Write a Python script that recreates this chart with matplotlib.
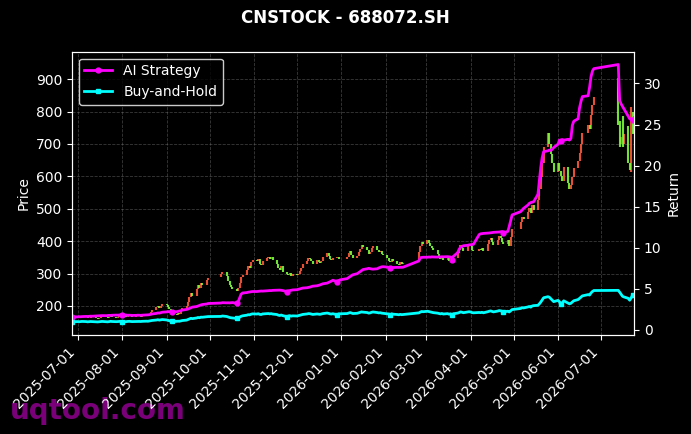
import numpy as np
import pandas as pd
import matplotlib
matplotlib.use("Agg")
import matplotlib.pyplot as plt
import matplotlib.dates as mdates

title = "CNSTOCK - 688072.SH"

# trading calendar: business days minus exchange holidays and a data gap
closed_days = (["2025-10-01", "2025-10-02", "2025-10-03", "2025-10-06", "2025-10-07", "2025-10-08",
                "2026-01-01", "2026-01-02",
                "2026-02-16", "2026-02-17", "2026-02-18", "2026-02-19", "2026-02-20", "2026-02-23",
                "2026-04-06", "2026-05-01", "2026-05-04", "2026-05-05", "2026-06-19"]
               + [d.strftime("%Y-%m-%d") for d in pd.bdate_range("2026-06-29", "2026-07-10")])
dates = pd.bdate_range("2025-06-27", "2026-07-24")
dates = dates[~dates.isin(pd.to_datetime(closed_days))]

opens = [
    160, 162,
    164, 166, 163, 166, 168, 165, 162, 164, 167, 166, 163, 161, 164, 166, 168, 165, 163, 166, 169, 167, 164, 166, 168,
    170, 168, 166, 169, 171, 168, 166, 170, 172, 169, 167, 171, 174, 172, 176, 181, 188, 196, 201, 194, 199,
    205, 203, 198, 190, 182, 176, 173, 178, 175, 183, 192, 201, 212, 226, 240, 232, 251, 263, 256, 270, 266, 279,
    288, 298, 306, 292, 278, 266, 258, 252, 247, 256, 270, 288, 296, 310, 322, 318, 335,
    342, 338, 346, 330, 325, 340, 348, 352, 344, 350, 341, 330, 318, 310, 322, 305, 300, 296, 303, 292,
    298, 294, 300, 309, 318, 328, 340, 348, 345, 338, 330, 342, 336, 333, 340, 350, 362, 355, 345, 341, 348, 352, 344,
    346, 350, 362, 370, 358, 348, 355, 366, 376, 388, 382, 372, 360, 366, 378, 385, 372, 365, 370, 360,
    358, 348, 340, 335, 344, 338, 330, 326, 335, 328, 340, 365, 384, 398,
    392, 405, 395, 386, 378, 372, 360, 352, 346, 355, 342, 350, 338, 345, 352, 348, 362, 372, 388, 380, 370, 385,
    392, 386, 374, 368, 376, 372, 380, 368, 392, 402, 410, 398, 388, 405, 416, 410, 398, 390, 402, 385, 412,
    438, 458, 476, 468, 489, 502, 486, 510, 496, 528, 560, 598, 642, 690, 735, 700, 668, 640,
    612, 640, 615, 600, 585, 630, 580, 560, 572, 598, 625, 648, 672, 700, 735, 760, 745, 790, 820,
    905, 770, 700, 785, 700, 754, 640, 612, 800, 735,
]
closes = [
    162, 164,
    165, 163, 166, 168, 165, 162, 164, 167, 166, 163, 161, 164, 166, 168, 165, 163, 166, 169, 167, 164, 166, 168, 170,
    168, 166, 169, 171, 168, 166, 170, 172, 169, 167, 171, 174, 172, 176, 181, 188, 196, 201, 194, 199, 205,
    203, 198, 190, 182, 176, 173, 178, 175, 183, 192, 201, 212, 226, 240, 232, 251, 263, 256, 270, 266, 279, 285,
    298, 306, 292, 278, 266, 258, 252, 247, 256, 270, 288, 296, 310, 322, 318, 335, 342,
    338, 346, 330, 325, 340, 348, 352, 344, 350, 341, 330, 318, 310, 322, 305, 300, 296, 303, 292, 298,
    294, 300, 309, 318, 328, 340, 348, 345, 338, 330, 342, 336, 333, 340, 350, 362, 355, 345, 341, 348, 352, 344, 346,
    350, 362, 370, 358, 348, 355, 366, 376, 388, 382, 372, 360, 366, 378, 385, 372, 365, 370, 360, 358,
    348, 340, 335, 344, 338, 330, 326, 335, 328, 332, 365, 384, 398, 392,
    405, 395, 386, 378, 372, 360, 352, 346, 355, 342, 350, 338, 345, 352, 348, 362, 372, 388, 380, 370, 385, 392,
    386, 374, 368, 376, 372, 380, 368, 392, 402, 410, 398, 388, 405, 416, 410, 398, 390, 402, 385, 412, 438,
    458, 476, 468, 489, 502, 486, 510, 496, 528, 560, 598, 642, 690, 735, 700, 668, 640, 612,
    640, 615, 600, 585, 630, 580, 560, 572, 598, 625, 648, 672, 700, 735, 760, 745, 790, 820, 845,
    760, 690, 720, 690, 730, 640, 620, 815, 730, 760,
]
ai_ret = [
    1.55, 1.58,
    1.60, 1.62, 1.61, 1.63, 1.65, 1.64, 1.66, 1.68, 1.67, 1.70, 1.72, 1.71, 1.73, 1.75, 1.74, 1.76, 1.78, 1.77, 1.79, 1.81, 1.80, 1.82, 1.84,
    1.80, 1.81, 1.79, 1.80, 1.78, 1.77, 1.78, 1.80, 1.79, 1.78, 1.80, 1.82, 1.84, 1.86, 1.90, 1.95, 2.02, 2.08, 2.05, 2.10, 2.16,
    2.20, 2.24, 2.22, 2.25, 2.18, 2.22, 2.26, 2.30, 2.35, 2.42, 2.50, 2.55, 2.62, 2.70, 2.78, 2.85, 2.92, 2.98, 3.05, 3.10, 3.16, 3.22,
    3.28, 3.32, 3.30, 3.31, 3.29, 3.32, 3.33, 3.25, 3.45, 3.90, 4.35, 4.50, 4.55, 4.60, 4.62, 4.66, 4.68,
    4.68, 4.70, 4.72, 4.74, 4.73, 4.76, 4.78, 4.80, 4.79, 4.82, 4.84, 4.86, 4.85, 4.83, 4.80, 4.67, 4.74, 4.80, 4.84, 4.87,
    4.90, 4.95, 5.00, 5.05, 5.10, 5.14, 5.18, 5.22, 5.28, 5.33, 5.38, 5.43, 5.48, 5.55, 5.62, 5.70, 5.78, 5.86, 5.95, 6.05, 5.88, 6.00, 6.10,
    6.25, 6.38, 6.50, 6.62, 6.72, 6.85, 6.98, 7.10, 7.22, 7.35, 7.45, 7.50, 7.46, 7.42, 7.40, 7.45, 7.55, 7.62, 7.68, 7.70,
    7.65, 7.60, 7.50, 7.58, 7.60, 7.62, 7.61, 7.63, 7.62, 7.64, 8.40, 8.80, 8.82, 8.85,
    8.85, 8.88, 8.86, 8.90, 8.88, 8.87, 8.90, 8.89, 8.91, 8.90, 8.92, 8.90, 8.88, 8.55, 8.95, 9.40, 9.80, 10.05, 10.15, 10.25, 10.30, 10.35,
    10.38, 10.40, 10.42, 11.60, 11.70, 11.72, 11.75, 11.78, 11.80, 11.82, 11.85, 11.88, 11.90, 11.92, 11.95, 11.98, 11.80, 12.00, 12.60, 13.30, 14.00,
    14.40, 14.60, 14.80, 15.20, 15.40, 15.50, 15.55, 15.60, 16.50, 18.10, 19.80, 21.00, 21.70, 21.80, 21.90, 21.85, 22.00, 22.20,
    22.60, 23.10, 23.00, 23.15, 23.10, 23.20, 23.10, 23.30, 24.90, 25.40, 25.70, 27.00, 27.80, 28.40, 28.50, 29.50, 30.80, 31.50, 31.80,
    32.30, 27.90, 27.50, 27.20, 26.90, 26.00, 25.70, 25.60, 25.60, 25.80,
]
bh_ret = [
    1.00, 1.01,
    1.02, 1.00, 1.02, 1.04, 1.02, 0.99, 1.01, 1.03, 1.02, 1.00, 0.98, 1.00, 1.02, 1.04, 1.01, 0.99, 1.02, 1.05, 1.03, 1.01, 1.02, 1.04, 1.05,
    0.95, 1.02, 1.04, 1.05, 1.03, 1.02, 1.04, 1.06, 1.04, 1.03, 1.05, 1.07, 1.06, 1.09, 1.12, 1.16, 1.21, 1.25, 1.20, 1.23, 1.27,
    1.22, 1.18, 1.12, 1.08, 1.04, 1.05, 1.07, 1.06, 1.10, 1.15, 1.20, 1.27, 1.35, 1.42, 1.38, 1.46, 1.52, 1.49, 1.56, 1.55, 1.60, 1.63,
    1.65, 1.70, 1.64, 1.58, 1.52, 1.48, 1.46, 1.40, 1.48, 1.56, 1.66, 1.72, 1.80, 1.86, 1.84, 1.92, 1.96,
    1.94, 1.98, 1.90, 1.88, 1.95, 1.98, 2.00, 1.96, 1.99, 1.94, 1.88, 1.80, 1.76, 1.82, 1.75, 1.62, 1.70, 1.74, 1.68, 1.72,
    1.70, 1.74, 1.79, 1.84, 1.89, 1.95, 1.99, 1.98, 1.93, 1.89, 1.95, 1.92, 1.90, 1.94, 1.99, 2.06, 2.02, 1.96, 1.94, 1.98, 1.85, 1.96, 1.97,
    2.00, 2.06, 2.12, 2.06, 2.00, 2.03, 2.09, 2.14, 2.20, 2.17, 2.12, 2.05, 2.08, 2.15, 2.19, 2.12, 2.08, 2.10, 2.05, 2.03,
    1.98, 1.94, 1.82, 1.96, 1.92, 1.88, 1.85, 1.90, 1.86, 1.88, 2.08, 2.18, 2.25, 2.22,
    2.28, 2.24, 2.19, 2.15, 2.11, 2.05, 2.00, 1.96, 2.01, 1.94, 1.99, 1.92, 1.96, 1.80, 1.97, 2.05, 2.11, 2.20, 2.16, 2.10, 2.18, 2.22,
    2.19, 2.12, 2.09, 2.13, 2.11, 2.15, 2.09, 2.22, 2.28, 2.32, 2.26, 2.20, 2.30, 2.36, 2.33, 2.26, 2.20, 2.28, 2.19, 2.34, 2.48,
    2.62, 2.72, 2.68, 2.80, 2.86, 2.78, 2.92, 2.96, 3.00, 3.18, 3.40, 3.65, 3.92, 4.05, 3.98, 3.80, 3.62, 3.45,
    3.60, 3.45, 3.15, 3.30, 3.55, 3.28, 3.18, 3.25, 3.40, 3.55, 3.70, 3.84, 4.00, 4.15, 4.30, 4.25, 4.50, 4.68, 4.80,
    4.82, 4.60, 4.35, 4.10, 4.02, 3.85, 3.62, 3.90, 4.25, 4.30,
]

opens = np.array(opens, dtype=float)
closes = np.array(closes, dtype=float)
up = closes >= opens

fig = plt.figure(figsize=(6.91, 4.34), dpi=100, facecolor="black")
ax = fig.add_axes([0.104, 0.228, 0.8135, 0.653])
ax.set_facecolor("black")

# candles: red = up, green = down
ax.vlines(dates[up], opens[up], closes[up], colors="#ff5a3c", linewidth=1.5, alpha=0.9)
ax.vlines(dates[~up], closes[~up], opens[~up], colors="#7cfc3c", linewidth=1.5, alpha=0.9)
ax.set_xlim(dates[0], dates[-1])
ax.set_ylim(110, 985)
ax.set_ylabel("Price", color="white", fontsize=10)
ax.grid(True, color="gray", linestyle="--", linewidth=0.6, alpha=0.45)

ax2 = ax.twinx()
ax2.plot(dates, ai_ret, color="#ff00ff", linewidth=2, marker="o", markersize=3.5,
         markevery=25, label="AI Strategy")
ax2.plot(dates, bh_ret, color="#00ffff", linewidth=2, marker="s", markersize=3.5,
         markevery=25, label="Buy-and-Hold")
ax2.set_ylabel("Return", color="white", fontsize=10)

for a in (ax, ax2):
    a.tick_params(colors="white", labelsize=10)
    for sp in a.spines.values():
        sp.set_color("white")

ax.xaxis.set_major_locator(mdates.MonthLocator())
ax.xaxis.set_major_formatter(mdates.DateFormatter("%Y-%m-%d"))
plt.setp(ax.get_xticklabels(), rotation=45, ha="right")

leg = ax2.legend(loc="upper left", facecolor="black", edgecolor="white",
                 labelcolor="white", fontsize=10)
leg.get_frame().set_alpha(0.8)

fig.text(0.5, 1 - 18 / 434, title, color="white", fontsize=12, fontweight="bold",
         ha="center", va="center")
fig.text(0.015, 0.035, "uqtool.com", color="#800080", fontsize=20, fontweight="bold",
         alpha=0.95, zorder=-1)

fig.savefig("out.png", dpi=100, facecolor="black")
